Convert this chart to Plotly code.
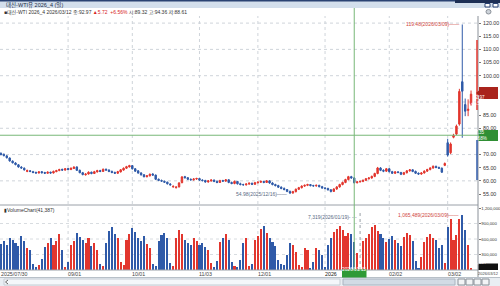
import plotly.graph_objects as go
import pandas as pd

W, H = 500, 286

# ---------------- data ----------------
dates = pd.bdate_range("2025-07-29", "2026-03-12")

opens = [69.9, 70.5, 70.1, 69.5, 68.7, 67.5, 66.8, 66.1, 65.2, 64.8,
         63.6, 63.8, 63.5, 63.2, 63.0, 63.5, 63.2, 62.9, 63.3, 63.0,
         63.5, 63.9, 64.4, 64.1, 64.7, 64.3, 64.7, 65.3, 64.0, 63.1,
         62.3, 62.6, 63.3, 62.8, 63.4, 63.9, 63.6, 64.4, 64.1, 63.6,
         63.2, 62.9, 63.4, 64.1, 64.8, 65.3, 65.8, 64.6, 63.8, 63.0,
         62.3, 61.6, 61.9, 62.6, 62.2, 60.6, 60.1, 59.8, 59.5, 58.8,
         57.7, 57.4, 57.7, 59.3, 61.6, 61.2, 60.6, 60.4, 60.7, 60.9,
         60.3, 60.1, 59.6, 60.0, 60.3, 59.8, 59.4, 60.1, 59.9, 60.4,
         59.4, 59.0, 59.8, 58.9, 58.6, 58.5, 58.8, 59.1, 58.7, 59.3,
         59.5, 59.8, 59.4, 60.0, 59.2, 58.6, 58.2, 57.6, 57.1, 56.7,
         56.0, 55.4, 55.9, 56.8, 57.4, 58.0, 58.3, 58.6, 58.2, 58.1,
         58.3, 57.8, 57.3, 57.1, 56.6, 56.0, 56.9, 57.7, 58.6, 59.4,
         60.5, 61.6, 61.1, 59.3, 59.6, 59.8, 60.2, 60.8, 61.1, 61.7,
         62.8, 64.9, 64.0, 63.7, 64.6, 63.5, 62.9, 63.4, 63.2, 62.5,
         63.1, 63.8, 64.2, 63.6, 62.9, 62.6, 63.0, 63.7, 64.3, 64.9,
         65.5, 65.1, 64.8, 65.9, 74.5, 70.7, 76.6, 77.8, 81.6, 97.7,
         89.0, 86.8, 89.32]

highs = [70.9, 70.8, 70.4, 69.8, 68.9, 67.8, 67.1, 66.4, 65.6, 65.1,
         64.3, 64.1, 63.8, 63.5, 63.7, 63.7, 63.4, 63.6, 63.5, 63.9,
         64.2, 64.6, 64.6, 64.9, 64.9, 65.1, 65.6, 65.5, 64.3, 63.4,
         62.9, 63.6, 63.5, 63.8, 64.2, 64.2, 64.7, 64.7, 64.4, 63.9,
         63.5, 63.8, 64.5, 65.1, 65.7, 66.1, 65.9, 64.9, 64.1, 63.3,
         62.6, 62.2, 62.8, 62.9, 62.4, 60.9, 60.5, 60.1, 59.7, 59.1,
         58.3, 58.0, 59.5, 61.8, 61.9, 61.4, 60.9, 61.0, 61.2, 61.1,
         60.6, 60.4, 60.3, 60.6, 60.5, 60.1, 60.4, 60.4, 60.7, 60.6,
         59.7, 60.1, 59.9, 59.3, 58.9, 59.1, 59.4, 59.3, 59.6, 59.8,
         60.1, 60.0, 60.3, 60.2, 59.5, 58.9, 58.5, 57.9, 57.5, 56.9,
         56.3, 56.2, 57.1, 57.7, 58.3, 58.6, 58.9, 58.8, 58.5, 58.6,
         58.5, 58.1, 57.6, 57.4, 56.8, 57.2, 58.0, 58.9, 59.7, 60.8,
         61.9, 61.9, 61.4, 59.9, 60.1, 60.5, 61.1, 61.4, 62.0, 63.1,
         65.3, 65.2, 64.4, 64.9, 64.8, 63.8, 63.7, 63.7, 63.4, 63.4,
         64.1, 64.5, 64.4, 63.9, 63.2, 63.3, 64.0, 64.6, 65.2, 65.9,
         65.8, 65.4, 65.1, 67.0, 76.0, 74.6, 77.9, 81.4, 95.0, 119.48,
         91.3, 91.0, 94.36]

lows = [69.6, 69.7, 69.3, 68.5, 67.3, 66.6, 65.9, 65.0, 64.6, 63.9,
        63.3, 63.3, 62.9, 62.7, 62.8, 62.8, 62.6, 62.7, 62.7, 62.8,
        63.3, 63.7, 63.8, 63.9, 64.0, 64.1, 64.5, 63.8, 62.9, 62.1,
        62.0, 62.4, 62.5, 62.6, 63.2, 63.3, 63.4, 63.9, 63.3, 62.9,
        62.6, 62.7, 63.2, 63.9, 64.5, 65.1, 64.3, 63.4, 62.7, 62.0,
        61.3, 61.3, 61.7, 61.9, 60.3, 59.9, 59.6, 59.2, 58.6, 58.2,
        57.4, 57.1, 57.5, 59.1, 60.9, 60.3, 60.1, 60.1, 60.4, 60.0,
        59.8, 59.3, 59.3, 59.7, 59.5, 59.1, 59.2, 59.6, 59.6, 59.1,
        58.7, 58.7, 58.6, 58.3, 58.2, 58.2, 58.5, 58.4, 58.5, 59.0,
        59.2, 59.1, 59.2, 58.9, 58.3, 57.9, 57.3, 56.8, 56.4, 55.7,
        54.98, 55.1, 55.6, 56.5, 57.1, 57.7, 58.0, 57.9, 57.8, 57.8,
        57.5, 57.0, 56.8, 56.3, 55.6, 55.8, 56.6, 57.4, 58.3, 59.1,
        60.2, 60.8, 59.0, 59.0, 59.4, 59.5, 60.0, 60.5, 60.8, 61.4,
        62.5, 63.7, 63.3, 63.4, 63.2, 62.6, 62.6, 62.9, 62.2, 62.2,
        62.8, 63.5, 63.3, 62.6, 62.3, 62.3, 62.8, 63.4, 64.0, 64.6,
        64.8, 64.5, 63.0, 65.6, 69.2, 70.2, 76.2, 77.4, 81.0, 76.4,
        84.6, 84.6, 88.61]

closes = [70.4, 70.0, 69.6, 68.8, 67.6, 66.9, 66.2, 65.3, 64.9, 64.2,
          63.9, 63.6, 63.2, 63.0, 63.4, 63.1, 62.9, 63.3, 63.0, 63.6,
          63.9, 64.3, 64.1, 64.6, 64.3, 64.8, 65.2, 64.0, 63.1, 62.4,
          62.6, 63.3, 62.8, 63.5, 63.9, 63.6, 64.4, 64.1, 63.6, 63.2,
          62.9, 63.5, 64.2, 64.8, 65.4, 65.8, 64.6, 63.7, 63.0, 62.3,
          61.6, 61.9, 62.5, 62.2, 60.6, 60.2, 59.9, 59.5, 58.9, 58.5,
          57.9, 57.6, 59.2, 61.5, 61.2, 60.6, 60.4, 60.7, 60.9, 60.3,
          60.1, 59.6, 60.0, 60.3, 59.8, 59.4, 60.1, 59.9, 60.4, 59.4,
          59.0, 59.8, 58.9, 58.6, 58.5, 58.8, 59.1, 58.7, 59.3, 59.5,
          59.8, 59.4, 60.0, 59.2, 58.6, 58.2, 57.6, 57.1, 56.7, 56.0,
          55.4, 55.9, 56.8, 57.4, 58.0, 58.3, 58.6, 58.2, 58.1, 58.3,
          57.8, 57.3, 57.1, 56.6, 56.0, 56.9, 57.7, 58.6, 59.4, 60.5,
          61.6, 61.1, 59.3, 59.6, 59.8, 60.2, 60.8, 61.1, 61.7, 62.8,
          64.9, 64.0, 63.7, 64.6, 63.5, 62.9, 63.4, 63.2, 62.5, 63.1,
          63.8, 64.2, 63.6, 62.9, 62.6, 63.0, 63.7, 64.3, 64.9, 65.5,
          65.1, 64.8, 63.3, 66.6, 69.8, 74.0, 77.3, 80.8, 94.0, 94.1,
          86.5, 87.25, 92.97]

volumes = [420000, 510000, 560000, 480000, 620000, 590000, 530000, 470000, 650000, 560000, 430000, 380000,
           120000, 60000, 90000, 210000,
           450000, 520000, 610000, 480000, 560000, 700000, 380000,
           60000, 150000,
           480000, 560000, 720000, 640000, 590000, 520000, 610000, 470000, 530000, 390000,
           110000, 70000,
           520000, 760000, 840000, 700000, 620000,
           150000, 90000,
           580000, 690000, 810000, 740000, 620000, 560000, 650000, 500000, 420000,
           120000, 80000,
           560000, 680000, 720000, 610000,
           140000, 70000,
           620000, 780000, 700000, 590000, 520000, 480000, 610000, 570000, 490000, 530000, 450000, 380000,
           130000, 60000, 180000,
           540000, 620000, 700000, 580000,
           150000, 80000, 60000, 200000,
           520000, 610000,
           70000, 120000,
           580000, 660000, 790000, 850000, 720000, 610000, 540000, 470000,
           200000, 110000, 90000, 300000,
           520000, 480000, 350000, 90000, 60000, 420000, 380000, 40000, 160000, 420000, 390000, 300000,
           50000,
           480000, 620000, 730000, 800000, 860000, 780000, 650000, 720000, 690000, 540000,
           320000, 7319, 560000,
           610000, 700000, 830000, 870000, 760000, 690000, 620000, 540000, 600000, 650000, 580000,
           520000, 470000, 640000, 720000, 680000, 560000,
           180000, 40000, 260000,
           540000, 630000, 700000, 610000, 580000,
           430000, 480000, 130000,
           830000, 990000, 580000, 680000, 990000, 1065489, 770000, 480000, 41387]

price_ticks = [120, 115, 110, 105, 100, 85, 80, 70, 65, 60, 55]
price_grid = [120, 110, 100, 90, 80, 70, 60]
vol_ticks = [1200000, 900000, 600000, 300000]
vol_tick_text = ["1,200,000", "900,000", "600,000", "300,000"]
x_tick_dates = ["2025-07-30", "2025-09-01", "2025-10-01", "2025-11-03", "2025-12-01",
                "2026-01-01", "2026-02-02", "2026-03-02"]
x_tick_text = ["2025/07/30", "09/01", "10/01", "11/03", "12/01", "2026", "02/02", "03/02"]

n = len(dates)
assert len(opens) == len(highs) == len(lows) == len(closes) == len(volumes) == n
idx = list(range(n))
date_pos = {d.strftime("%Y-%m-%d"): i for i, d in enumerate(dates)}

UP = "#e2362e"
DN = "#2f5aa8"
vol_colors = [UP if c >= o else DN for o, c in zip(opens, closes)]

FONT = "Liberation Sans, Noto Sans CJK KR, sans-serif"

def py(y):
    return 1 - y / H

def px(x):
    return x / W

XR = 478  # right edge of plot area (px)
x_range = [2 / 2.92, (XR + 2) / 2.92]

fig = go.Figure()
fig.add_trace(go.Candlestick(
    x=idx, open=opens, high=highs, low=lows, close=closes,
    increasing=dict(line=dict(color=UP, width=1), fillcolor=UP),
    decreasing=dict(line=dict(color=DN, width=1), fillcolor=DN),
    whiskerwidth=0, xaxis="x", yaxis="y", showlegend=False, hoverinfo="skip"))
fig.add_trace(go.Bar(
    x=idx, y=volumes, marker=dict(color=vol_colors, line=dict(width=0)),
    width=0.72, xaxis="x2", yaxis="y2", showlegend=False, hoverinfo="skip"))

fig.update_layout(
    width=W, height=H, margin=dict(l=0, r=0, t=0, b=0, autoexpand=False),
    paper_bgcolor="white", plot_bgcolor="white",
    font=dict(family=FONT, size=6, color="#333"),
    xaxis=dict(domain=[0, px(XR)], range=x_range, anchor="y", showticklabels=False,
               showgrid=False, zeroline=False, rangeslider=dict(visible=False),
               automargin=False),
    xaxis2=dict(domain=[0, px(XR)], range=x_range, anchor="y2", matches="x", showticklabels=False,
                showgrid=False, zeroline=False, automargin=False),
    yaxis=dict(domain=[py(204), py(16)], range=[51.2, 122.7], side="right", anchor="x",
               tickvals=price_ticks, ticktext=[f"{v:.2f}" for v in price_ticks],
               ticks="outside", ticklen=2, tickcolor="#777", showgrid=False, zeroline=False,
               showline=False, automargin=False, ticklabelstandoff=1,
               tickfont=dict(size=5.3, color="#333")),
    yaxis2=dict(domain=[py(270), py(205)], range=[0, 1258000], side="right", anchor="x2",
                tickvals=vol_ticks, ticktext=vol_tick_text,
                ticks="outside", ticklen=1.5, tickcolor="#777", showgrid=False, zeroline=False,
                showline=False, automargin=False, ticklabelstandoff=0,
                tickfont=dict(size=4.3, color="#333")),
    bargap=0,
)

shapes = []
anns = []

# horizontal dotted grid lines
for g in price_grid:
    shapes.append(dict(type="line", xref="x domain", yref="y", x0=0, x1=1, y0=g, y1=g,
                       line=dict(color="#cfd4da", width=1, dash="dot"), layer="below"))
for g in [900000, 600000, 300000]:
    shapes.append(dict(type="line", xref="x domain", yref="y2", x0=0, x1=1, y0=g, y1=g,
                       line=dict(color="#d8dce0", width=1, dash="dot"), layer="below"))

# month dotted verticals + x labels
for d, t in zip(x_tick_dates, x_tick_text):
    i = date_pos[d]
    if t != "2025/07/30":
        shapes.append(dict(type="line", xref="x", yref="paper", x0=i, x1=i, y0=py(270), y1=py(16),
                           line=dict(color="#cfd4da", width=1, dash="dot"), layer="below"))
    anns.append(dict(x=i, xref="x", y=py(273.5), yref="paper", text=t, showarrow=False,
                     xanchor="left", yanchor="middle", xshift=-1, borderpad=0,
                     font=dict(size=5.3, color="#111" if t == "2026" else "#444")))
anns.append(dict(x=px(499.5), xref="paper", y=py(273.5), yref="paper", text="2026/03/12",
                 showarrow=False, xanchor="right", yanchor="middle", borderpad=0,
                 font=dict(size=4.0, color="#444")))

# frame lines
shapes += [
    dict(type="line", xref="paper", yref="paper", x0=0, x1=px(XR), y0=py(205), y1=py(205),
         line=dict(color="#9aa0a8", width=1)),
    dict(type="line", xref="paper", yref="paper", x0=0, x1=px(XR), y0=py(270), y1=py(270),
         line=dict(color="#9aa0a8", width=1)),
    dict(type="line", xref="paper", yref="paper", x0=px(XR), x1=px(XR), y0=py(277), y1=py(16),
         line=dict(color="#8a9098", width=1)),
    dict(type="line", xref="paper", yref="paper", x0=0, x1=1, y0=py(277.5), y1=py(277.5),
         line=dict(color="#b8c0c8", width=1)),
]
# price range strip along the axis
shapes += [
    dict(type="line", xref="paper", yref="paper", x0=px(477), x1=px(477), y0=py(110), y1=py(40),
         line=dict(color="#e2362e", width=1.5)),
    dict(type="line", xref="paper", yref="paper", x0=px(477), x1=px(477), y0=py(180), y1=py(140),
         line=dict(color="#2f5aa8", width=1.5)),
]

# crosshair (2026/01/15, 77.35)
ci = date_pos["2026-01-15"]
shapes += [
    dict(type="line", xref="x", yref="paper", x0=ci, x1=ci, y0=py(270), y1=py(8),
         line=dict(color="#78b878", width=1)),
    dict(type="line", xref="x domain", yref="y", x0=0, x1=1, y0=77.35, y1=77.35,
         line=dict(color="#78b878", width=1)),
]
# dotted marker for min volume
vi = date_pos["2026-01-19"]
shapes.append(dict(type="line", xref="x", yref="paper", x0=vi, x1=vi, y0=py(270), y1=py(213),
                   line=dict(color="#9aa0a8", width=1, dash="dot")))

# title bar & info strip
shapes += [
    dict(type="rect", xref="paper", yref="paper", x0=0, x1=1, y0=py(8), y1=1,
         fillcolor="#d3dfec", line=dict(width=0), layer="above"),
    dict(type="rect", xref="paper", yref="paper", x0=0, x1=1, y0=py(1.5), y1=1,
         fillcolor="#2a4373", line=dict(width=0), layer="above"),
    dict(type="rect", xref="paper", yref="paper", x0=px(455), x1=1, y0=py(3), y1=1,
         fillcolor="#1d2f55", line=dict(width=0), layer="above"),
    dict(type="rect", xref="paper", yref="paper", x0=px(485), x1=px(490), y0=py(7), y1=py(3.5),
         fillcolor="white", line=dict(color="#2a4373", width=1), layer="above"),
    dict(type="rect", xref="paper", yref="paper", x0=px(493), x1=px(498), y0=py(7), y1=py(3.5),
         fillcolor="white", line=dict(color="#2a4373", width=1), layer="above"),
    dict(type="circle", xref="paper", yref="paper", x0=px(486), x1=px(491), y0=py(14), y1=py(9.5),
         fillcolor="#cdd3da", line=dict(color="#8a9098", width=1), layer="above"),
]
# bottom scrollbar
shapes += [
    dict(type="rect", xref="paper", yref="paper", x0=0, x1=1, y0=0, y1=py(278),
         fillcolor="#e9eef3", line=dict(width=0), layer="above"),
    dict(type="rect", xref="paper", yref="paper", x0=px(4), x1=px(340), y0=py(285), y1=py(279),
         fillcolor="#f4f7fa", line=dict(color="#c5ccd4", width=1), layer="above"),
    dict(type="rect", xref="paper", yref="paper", x0=px(343), x1=px(455), y0=py(285), y1=py(279),
         fillcolor="#d2dbe5", line=dict(color="#aab4c0", width=1), layer="above"),
    dict(type="path", xref="paper", yref="paper",
         path=f"M {px(8)} {py(280)} L {px(5.5)} {py(282)} L {px(8)} {py(284)}",
         line=dict(color="#666", width=1), layer="above"),
]
for bx in [458, 466, 474, 482]:
    shapes.append(dict(type="rect", xref="paper", yref="paper", x0=px(bx), x1=px(bx + 7),
                       y0=py(285), y1=py(279), fillcolor="#f2f4f6",
                       line=dict(color="#8a9098", width=1), layer="above"))

# value boxes on the right axis
shapes += [
    dict(type="rect", xref="paper", yref="paper", x0=px(479), x1=px(498), y0=py(99), y1=py(87),
         fillcolor="#a9231c", line=dict(width=0), layer="above"),
    dict(type="path", xref="paper", yref="paper",
         path=f"M {px(476)} {py(93)} L {px(479.5)} {py(90)} L {px(479.5)} {py(96)} Z",
         fillcolor="#a9231c", line=dict(width=0), layer="above"),
    dict(type="rect", xref="paper", yref="paper", x0=px(478.5), x1=px(498), y0=py(141), y1=py(130),
         fillcolor="#2f8f34", line=dict(width=0), layer="above"),
    dict(type="rect", xref="paper", yref="paper", x0=px(478.5), x1=px(498), y0=py(270), y1=py(263.5),
         fillcolor="#111", line=dict(width=0), layer="above"),
    dict(type="rect", xref="x", yref="paper", x0=ci - 4.2, x1=ci + 4.2, y0=py(277.5), y1=py(269.5),
         fillcolor="#2f9a36", line=dict(width=0), layer="above"),
]

anns += [
    dict(x=px(488.5), xref="paper", y=py(93), yref="paper", text="92.97<br>+6.56%", showarrow=False,
         font=dict(size=4.6, color="white"), align="center"),
    dict(x=px(488.5), xref="paper", y=py(135.5), yref="paper", text="77.35<br>-11.68%", showarrow=False,
         font=dict(size=4.6, color="white"), align="center"),
    dict(x=px(488.5), xref="paper", y=py(266.8), yref="paper", text="41,387", showarrow=False,
         font=dict(size=4.8, color="white")),
    dict(x=ci, xref="x", y=py(273.5), yref="paper", text="2026/01/15", showarrow=False,
         font=dict(size=4.8, color="white")),
    # title texts
    dict(x=px(4), xref="paper", y=py(4.8), yref="paper", text="대신-WTI유 2026_4 (일)", showarrow=False,
         xanchor="left", yanchor="middle", font=dict(size=5.5, color="#1b2a44")),
    dict(x=px(2), xref="paper", y=py(12), yref="paper",
         text="■대신-WTI 2026_4 2026/03/12 종:92.97 <span style='color:#d7261e'>▲5.72  +6.56%</span> 시:89.32 고:94.36 저:88.61",
         showarrow=False, xanchor="left", yanchor="middle", font=dict(size=5, color="#333")),
    dict(x=px(2), xref="paper", y=py(209.5), yref="paper", text="▮VolumeChart(41,387)", showarrow=False,
         xanchor="left", yanchor="middle", font=dict(size=5, color="#333")),
    # high / low markers
    dict(x=date_pos["2026-03-09"] - 0.6, xref="x", y=119.48, yref="y",
         text="119.48(2026/03/09)——", showarrow=False, xanchor="right", yanchor="middle",
         font=dict(size=5, color="#d0453d")),
    dict(x=date_pos["2025-12-16"] - 0.2, xref="x", y=54.98, yref="y",
         text="54.98(2025/12/16)——", showarrow=False, xanchor="right", yanchor="middle",
         font=dict(size=5, color="#5a6a84")),
    dict(x=vi - 0.4, xref="x", y=1030000, yref="y2",
         text="7,319(2026/01/19)- - -", showarrow=False, xanchor="right", yanchor="middle",
         font=dict(size=5, color="#5a6a84")),
    dict(x=date_pos["2026-03-09"] - 0.6, xref="x", y=1065489, yref="y2",
         text="1,065,489(2026/03/09)——", showarrow=False, xanchor="right", yanchor="middle",
         font=dict(size=5, color="#d0453d")),
]

fig.update_layout(shapes=shapes, annotations=anns)
fig.write_html("out.html")
